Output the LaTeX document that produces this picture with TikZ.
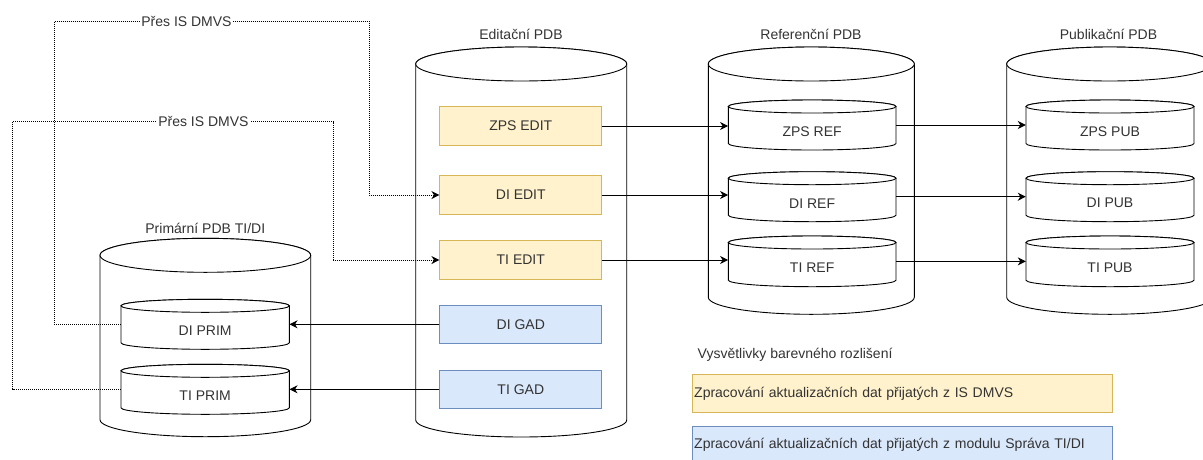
\documentclass[tikz,border=0pt]{standalone}
\usepackage{fontspec}
\setmainfont{Liberation Sans}
\usetikzlibrary{arrows.meta,calc}
\definecolor{ylwfill}{HTML}{FFF2CC}
\definecolor{ylwline}{HTML}{D6B656}
\definecolor{blufill}{HTML}{DAE8FC}
\definecolor{bluline}{HTML}{6C8EBF}
\definecolor{txt}{HTML}{333333}
\newcommand\dbcyl[7]{%
  \pgfmathsetmacro\cylcx{(#2+#4)/2}%
  \pgfmathsetmacro\cylrx{(#4-#2)/2}%
  \filldraw[cylline] (#2,#3+#6) -- (#2,#5-#6)
     arc[start angle=180,end angle=360,x radius=\cylrx pt,y radius=#6 pt]
     -- (#4,#3+#6)
     arc[start angle=0,end angle=180,x radius=\cylrx pt,y radius=#6 pt] -- cycle;
  \draw[cylline] (\cylcx,#3+#6) ellipse [x radius=\cylrx pt, y radius=#6 pt];
  \node[inner sep=0pt, minimum width={2*\cylrx pt}, minimum height={(#5-#3)*1pt}] (#1) at (\cylcx,{(#3+#5)/2}) {};
  \node[txtstyle] (#1-label) at (\cylcx,{(#3+2*#6+#5)/2}) {#7};
}
\begin{document}
\begin{tikzpicture}[x=1pt,y=-1pt,
  txtstyle/.style={text=txt, font=\fontsize{14}{16}\selectfont, inner sep=0pt},
  cylline/.style={draw=black, fill=white, line width=0.9pt},
  editbox/.style={txtstyle, draw=ylwline, fill=ylwfill, line width=1pt, minimum width=161.7pt, minimum height=38.5pt},
  gadbox/.style={txtstyle, draw=bluline, fill=blufill, line width=1pt, minimum width=161.7pt, minimum height=38.5pt},
  legbox/.style={txtstyle, line width=1pt, text width=416pt, align=left, inner xsep=2pt, minimum height=38.4pt},
  conn/.style={draw=black, line width=1pt, -{Stealth[length=8pt,width=8pt,inset=2.5pt]}},
  dotconn/.style={conn, dash pattern=on 1pt off 1pt},
  lbl/.style={txtstyle, fill=white, inner xsep=1pt}
]
\useasboundingbox (0,0) rectangle (1203,459);

% outer cylinders
\dbcyl{edit}{415.7}{47}{626.7}{437}{17}{}
\dbcyl{ref}{708.3}{47}{914.3}{314.3}{17}{}
\dbcyl{pub}{1006.7}{47}{1212.7}{314.3}{17}{}
\dbcyl{prim}{100}{238.3}{310.7}{436.7}{17}{}

% titles
\node[txtstyle] (edit-title) at (521,34) {Editační PDB};
\node[txtstyle] (ref-title) at (811,34) {Referenční PDB};
\node[txtstyle] (pub-title) at (1108.5,34) {Publikační PDB};
\node[txtstyle] (prim-title) at (205.3,228) {Primární PDB TI/DI};

% edit boxes
\node[editbox] (zpsedit) at (520.8,126) {ZPS EDIT};
\node[editbox] (diedit) at (520.8,195) {DI EDIT};
\node[editbox] (tiedit) at (520.8,260) {TI EDIT};
\node[gadbox] (digad) at (520.8,324.3) {DI GAD};
\node[gadbox] (tigad) at (520.8,389.3) {TI GAD};

% inner cylinders
\dbcyl{zpsref}{728.3}{100}{896}{150}{6.5}{ZPS REF}
\dbcyl{diref}{728.3}{171.7}{896}{221.7}{6.5}{DI REF}
\dbcyl{tiref}{728.3}{236}{896}{286.7}{6.5}{TI REF}
\dbcyl{zpspub}{1026}{100}{1194}{150}{6.5}{ZPS PUB}
\dbcyl{dipub}{1026}{171.7}{1194}{221.7}{6.5}{DI PUB}
\dbcyl{tipub}{1026}{236}{1194}{286.7}{6.5}{TI PUB}
\dbcyl{diprim}{121}{299.3}{289.3}{349.3}{6.5}{DI PRIM}
\dbcyl{tiprim}{121}{364.3}{289.3}{414.3}{6.5}{TI PRIM}

% solid connectors
\draw[conn] (zpsedit.east) -- (zpsedit.east -| zpsref.west);
\draw[conn] (diedit.east) -- (diedit.east -| diref.west);
\draw[conn] (tiedit.east) -- (tiedit.east -| tiref.west);
\draw[conn] (zpsref.east) -- (zpspub.west);
\draw[conn] (diref.east) -- (dipub.west);
\draw[conn] (tiref.east) -- (tipub.west);
\draw[conn] (digad.west) -- (digad.west -| diprim.east);
\draw[conn] (tigad.west) -- (tigad.west -| tiprim.east);

% dotted connectors
\coordinate (b1) at (54.3,21);
\coordinate (b2) at (369,21);
\coordinate (b3) at (12.7,121.7);
\coordinate (b4) at (333.3,121.7);
\draw[dotconn] (diprim.west) -| (b1) -- node[lbl, pos=0.42] (lab1) {Přes IS DMVS} (b2) |- (diedit.west);
\draw[dotconn] (tiprim.west) -| (b3) -- node[lbl, pos=0.595] (lab2) {Přes IS DMVS} (b4) |- (tiedit.west);

% legend
\node[txtstyle, anchor=west] (leghead) at (697.5,355) {Vysvětlivky barevného rozlišení};
\node[legbox, draw=ylwline, fill=ylwfill, anchor=west] (legy) at (691.7,393.5) {Zpracování aktualizačních dat přijatých z IS DMVS};
\node[legbox, draw=bluline, fill=blufill, anchor=west] (legb) at (691.7,445.2) {Zpracování aktualizačních dat přijatých z modulu Správa TI/DI};
\end{tikzpicture}
\end{document}
